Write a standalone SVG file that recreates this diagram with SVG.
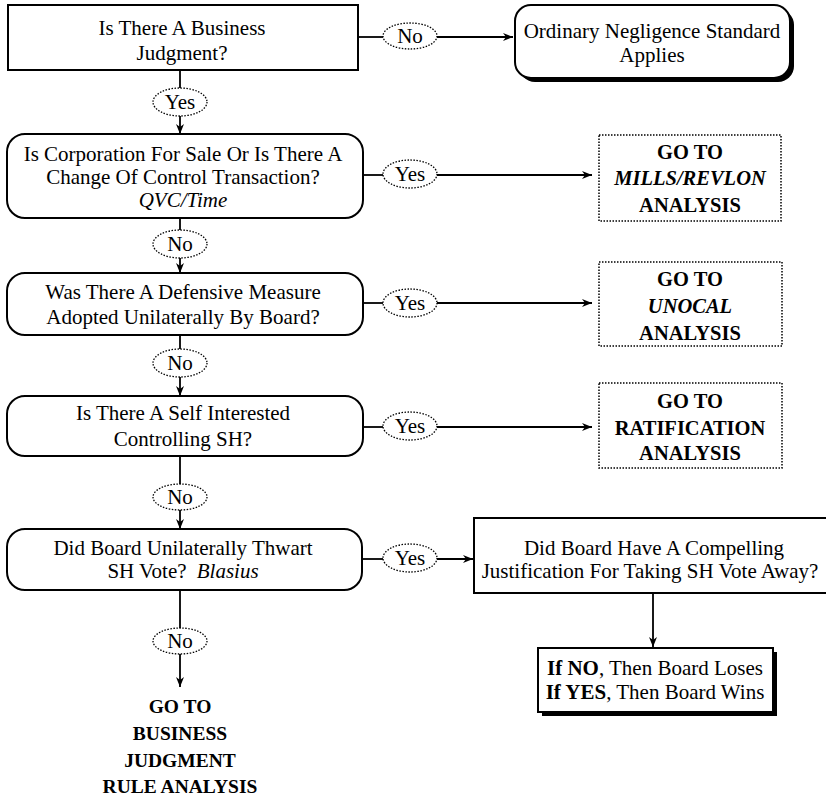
<svg xmlns="http://www.w3.org/2000/svg" width="826" height="796" viewBox="0 0 826 796">
<defs>
<marker id="ah" viewBox="0 0 10 8" refX="10" refY="4" markerWidth="10" markerHeight="8" markerUnits="userSpaceOnUse" orient="auto">
<path d="M0,0 L10,4 L0,8 L3,4 z" fill="#000"/>
</marker>
</defs>
<style>
text{font-family:"Liberation Serif","Times New Roman",serif;fill:#000;text-anchor:middle}
.q{font-size:21px}
.b{font-size:20.5px;font-weight:bold}
.i{font-style:italic}
.box{fill:#fff;stroke:#000;stroke-width:2}
.go{fill:#fff;stroke:#000;stroke-width:1.5;stroke-dasharray:1.5 1.5}
.ov{fill:#fff;stroke:#000;stroke-width:1.3;stroke-dasharray:1.5 1.5}
.ln{fill:none;stroke:#000;stroke-width:1.8}
.sh{fill:#000}
</style>
<g id="connectors">
<line class="ln" x1="358" y1="37" x2="383" y2="37"/>
<line class="ln" x1="437" y1="37" x2="513" y2="37" marker-end="url(#ah)"/>
<line class="ln" x1="180" y1="70" x2="180" y2="88"/>
<line class="ln" x1="180" y1="116" x2="180" y2="134" marker-end="url(#ah)"/>
<line class="ln" x1="363" y1="175" x2="383" y2="175"/>
<line class="ln" x1="437" y1="175" x2="592" y2="175" marker-end="url(#ah)"/>
<line class="ln" x1="180" y1="218" x2="180" y2="230"/>
<line class="ln" x1="180" y1="258" x2="180" y2="273" marker-end="url(#ah)"/>
<line class="ln" x1="363" y1="303" x2="383" y2="303"/>
<line class="ln" x1="437" y1="303" x2="592" y2="303" marker-end="url(#ah)"/>
<line class="ln" x1="180" y1="335" x2="180" y2="349"/>
<line class="ln" x1="180" y1="377" x2="180" y2="396" marker-end="url(#ah)"/>
<line class="ln" x1="363" y1="427" x2="383" y2="427"/>
<line class="ln" x1="437" y1="427" x2="592" y2="427" marker-end="url(#ah)"/>
<line class="ln" x1="180" y1="456" x2="180" y2="484"/>
<line class="ln" x1="180" y1="510" x2="180" y2="529" marker-end="url(#ah)"/>
<line class="ln" x1="362" y1="559" x2="383" y2="559"/>
<line class="ln" x1="437" y1="559" x2="473" y2="559" marker-end="url(#ah)"/>
<line class="ln" x1="653" y1="593" x2="653" y2="647" marker-end="url(#ah)"/>
<line class="ln" x1="180" y1="590" x2="180" y2="628"/>
<line class="ln" x1="180" y1="653" x2="180" y2="687" marker-end="url(#ah)"/>
</g>
<g id="n1">
<rect class="box" x="8" y="5" width="350" height="65"/>
<text class="q" x="182" y="35">Is There A Business</text>
<text class="q" x="182" y="60">Judgment?</text>
</g>
<g id="l1no">
<ellipse class="ov" cx="410" cy="36" rx="27" ry="13"/>
<text class="q" x="410" y="43">No</text>
</g>
<g id="n1no">
<rect class="sh" x="519" y="9" width="275" height="73" rx="16"/>
<rect class="box" x="515" y="5" width="275" height="73" rx="16"/>
<text class="q" x="652" y="38">Ordinary Negligence Standard</text>
<text class="q" x="652" y="62">Applies</text>
</g>
<g id="l1yes">
<ellipse class="ov" cx="180" cy="102" rx="27" ry="14"/>
<text class="q" x="180" y="109">Yes</text>
</g>
<g id="n2">
<rect class="box" x="7" y="134" width="356" height="84" rx="18"/>
<text class="q" x="183" y="161">Is Corporation For Sale Or Is There A</text>
<text class="q" x="183" y="184">Change Of Control Transaction?</text>
<text class="q i" x="183" y="207">QVC/Time</text>
</g>
<g id="l2yes">
<ellipse class="ov" cx="410" cy="174" rx="27" ry="14"/>
<text class="q" x="410" y="181">Yes</text>
</g>
<g id="g2">
<rect class="go" x="599" y="135" width="182" height="86"/>
<text class="b" x="690" y="159">GO TO</text>
<text class="b i" x="690" y="185">MILLS/REVLON</text>
<text class="b" x="690" y="212">ANALYSIS</text>
</g>
<g id="l2no">
<ellipse class="ov" cx="180" cy="244" rx="27" ry="14"/>
<text class="q" x="180" y="251">No</text>
</g>
<g id="n3">
<rect class="box" x="7" y="273" width="356" height="62" rx="18"/>
<text class="q" x="183" y="299">Was There A Defensive Measure</text>
<text class="q" x="183" y="324">Adopted Unilaterally By Board?</text>
</g>
<g id="l3yes">
<ellipse class="ov" cx="410" cy="303" rx="27" ry="14"/>
<text class="q" x="410" y="310">Yes</text>
</g>
<g id="g3">
<rect class="go" x="599" y="262" width="183" height="84"/>
<text class="b" x="690" y="286">GO TO</text>
<text class="b i" x="690" y="313">UNOCAL</text>
<text class="b" x="690" y="340">ANALYSIS</text>
</g>
<g id="l3no">
<ellipse class="ov" cx="180" cy="363" rx="27" ry="14"/>
<text class="q" x="180" y="370">No</text>
</g>
<g id="n4">
<rect class="box" x="7" y="396" width="356" height="60" rx="18"/>
<text class="q" x="183" y="420">Is There A Self Interested</text>
<text class="q" x="183" y="446">Controlling SH?</text>
</g>
<g id="l4yes">
<ellipse class="ov" cx="410" cy="426" rx="27" ry="14"/>
<text class="q" x="410" y="433">Yes</text>
</g>
<g id="g4">
<rect class="go" x="599" y="383" width="183" height="85"/>
<text class="b" x="690" y="408">GO TO</text>
<text class="b" x="690" y="435">RATIFICATION</text>
<text class="b" x="690" y="460">ANALYSIS</text>
</g>
<g id="l4no">
<ellipse class="ov" cx="180" cy="497" rx="27" ry="13"/>
<text class="q" x="180" y="504">No</text>
</g>
<g id="n5">
<rect class="box" x="7" y="529" width="355" height="61" rx="18"/>
<text class="q" x="183" y="555">Did Board Unilaterally Thwart</text>
<text class="q" x="183" y="578">SH Vote? <tspan class="i" dx="5">Blasius</tspan></text>
</g>
<g id="l5yes">
<ellipse class="ov" cx="410" cy="558" rx="27" ry="14"/>
<text class="q" x="410" y="565">Yes</text>
</g>
<g id="n6">
<rect class="box" x="474" y="518" width="360" height="75"/>
<text class="q" x="654" y="555">Did Board Have A Compelling</text>
<text class="q" x="650" y="578">Justification For Taking SH Vote Away?</text>
</g>
<g id="n7">
<rect class="sh" x="542" y="652" width="235" height="64"/>
<rect class="box" x="538" y="648" width="235" height="64"/>
<text class="q" x="655" y="675"><tspan font-weight="bold">If NO</tspan>, Then Board Loses</text>
<text class="q" x="655" y="699"><tspan font-weight="bold">If YES</tspan>, Then Board Wins</text>
</g>
<g id="l5no">
<ellipse class="ov" cx="180" cy="641" rx="27" ry="13"/>
<text class="q" x="180" y="648">No</text>
</g>
<g id="n8" style="font-size:19.5px">
<text class="b" x="180" y="713" style="font-size:19.5px">GO TO</text>
<text class="b" x="180" y="740" style="font-size:19.5px">BUSINESS</text>
<text class="b" x="180" y="767" style="font-size:19.5px">JUDGMENT</text>
<text class="b" x="180" y="793" style="font-size:19.5px">RULE ANALYSIS</text>
</g>
</svg>
